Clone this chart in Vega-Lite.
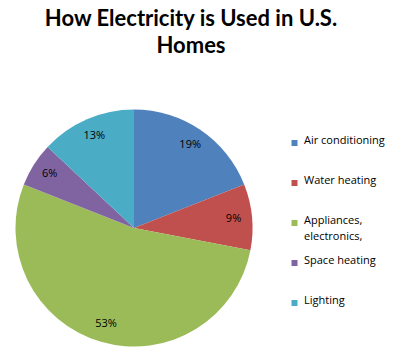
{
  "$schema": "https://vega.github.io/schema/vega-lite/v6.json",
  "width": 268,
  "height": 240,
  "autosize": "none",
  "padding": {"left": 0, "top": 108, "right": 134, "bottom": 11},
  "background": "white",
  "title": {
    "text": ["How Electricity is Used in U.S.", "Homes"],
    "font": "Lato",
    "fontSize": 22,
    "fontWeight": "bold",
    "color": "#000000",
    "anchor": "middle",
    "dx": 57,
    "lineHeight": 27,
    "offset": 50
  },
  "data": {
    "values": [
      {"use": "Air conditioning", "share": 0.19, "order": 1},
      {"use": "Water heating", "share": 0.09, "order": 2},
      {"use": "Appliances, electronics,", "share": 0.53, "order": 3},
      {"use": "Space heating", "share": 0.06, "order": 4},
      {"use": "Lighting", "share": 0.13, "order": 5}
    ]
  },
  "encoding": {
    "theta": {"field": "share", "type": "quantitative", "stack": true},
    "order": {"field": "order", "type": "ordinal"}
  },
  "layer": [
    {
      "mark": {"type": "arc", "outerRadius": 118.5},
      "encoding": {
        "color": {
          "field": "use",
          "type": "nominal",
          "scale": {
            "domain": ["Air conditioning", "Water heating", "Appliances, electronics,", "Space heating", "Lighting"],
            "range": ["#4F81BD", "#C0504D", "#9BBB59", "#8064A2", "#4BACC6"]
          },
          "legend": {
            "orient": "none",
            "legendX": 289,
            "legendY": 15,
            "title": null,
            "symbolType": "square",
            "symbolSize": 36,
            "symbolStrokeWidth": 0,
            "symbolOpacity": 1,
            "labelFont": "Open Sans",
            "labelFontSize": 11,
            "labelColor": "#000000",
            "labelOffset": 4,
            "labelBaseline": "top",
            "labelLimit": 200,
            "clipHeight": 40,
            "rowPadding": 0,
            "labelExpr": "datum.label == 'Appliances, electronics,' ? ['Appliances,', 'electronics,'] : datum.label",
            "encode": {"labels": {"update": {"dy": {"value": -8}, "lineHeight": {"value": 16}}}}
          }
        }
      }
    },
    {
      "mark": {"type": "text", "radius": 100, "font": "Open Sans", "fontSize": 11, "color": "#000000"},
      "encoding": {
        "text": {"field": "share", "type": "quantitative", "format": ".0%"}
      }
    }
  ],
  "config": {"view": {"stroke": null}}
}
